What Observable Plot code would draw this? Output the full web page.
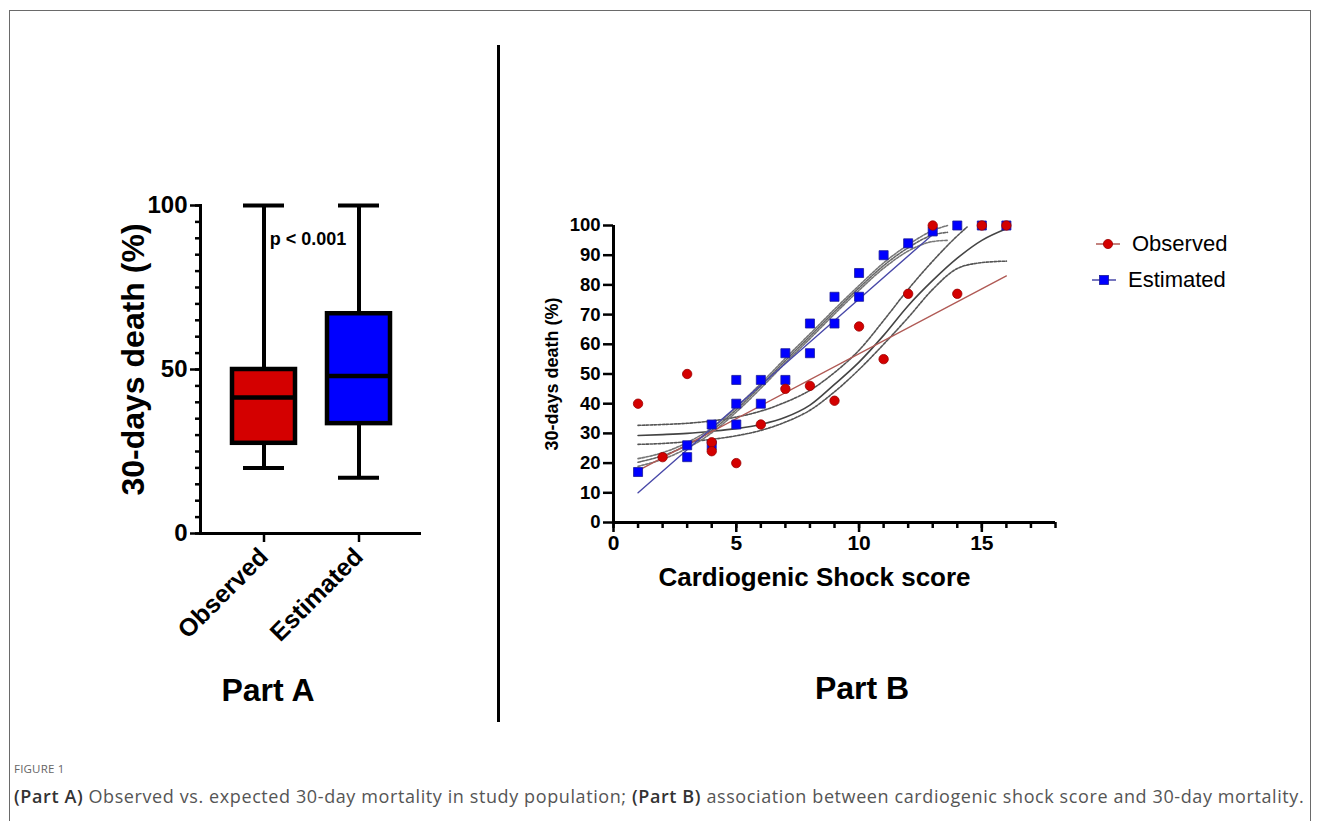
<!DOCTYPE html>
<html>
<head>
<meta charset="utf-8">
<script src="https://cdn.jsdelivr.net/npm/d3@7"></script>
<script src="https://cdn.jsdelivr.net/npm/@observablehq/plot@0.6"></script>
<style>
  html, body { margin: 0; padding: 0; background: #fff; }
  body { width: 1320px; height: 821px; overflow: hidden; position: relative; font-family: "Liberation Sans", Arial, sans-serif; }
  .abs { position: absolute; }
  #frame { left: 9px; top: 10px; width: 1300px; height: 900px; border: 1px solid #6a6a6a; border-bottom: none; }
  #divider { left: 497px; top: 45px; width: 3px; height: 677px; background: #000; }
  #partA { left: 100px; top: 180px; width: 340px; height: 480px; }
  #partB { left: 520px; top: 200px; width: 560px; height: 400px; }
  #partA svg, #partB svg { max-width: none !important; display: block; }
  .part { font-weight: bold; font-size: 32px; transform: translate(-50%, -50%); white-space: nowrap; color: #000; }
  #figlabel { left: 14px; top: 761px; font-family: "Open Sans", sans-serif; font-size: 11.5px; color: #666; letter-spacing: 0.2px; }
  #caption { left: 14px; top: 784px; font-family: "Open Sans", sans-serif; font-size: 18px; letter-spacing: 0.6px; color: #555; white-space: nowrap; }
  #caption b { font-weight: 600; color: #333; }
  #legend { left: 1090px; top: 226px; font-size: 22px; color: #000; }
  .lg { display: flex; align-items: center; height: 36px; }
  .lg svg { margin-right: 10px; }
</style>
</head>
<body>
<div id="frame" class="abs"></div>
<div id="divider" class="abs"></div>
<div id="partA" class="abs"></div>
<div id="partB" class="abs"></div>
<div class="abs part" style="left:268px; top:690px;">Part A</div>
<div class="abs part" style="left:862px; top:688px;">Part B</div>
<div id="legend" class="abs"></div>
<div id="figlabel" class="abs">FIGURE 1</div>
<div id="caption" class="abs"><b>(Part A)</b> Observed vs. expected 30-day mortality in study population; <b>(Part B)</b> association between cardiogenic shock score and 30-day mortality.</div>
<script>
const FONT = '"Liberation Sans", Arial, sans-serif';

// ---------- Part A: box plot summary ----------
const groups = ["Observed", "Estimated"];
const boxMin = [20, 17];
const boxQ1 = [27.5, 33.5];
const boxMedian = [41.5, 48];
const boxQ3 = [50, 67];
const boxMax = [100, 100];
const boxFill = ["#d40000", "#0000ff"];
const yTicksA = [0, 50, 100];
const yMinorTicksA = [0, 5, 10, 15, 20, 25, 30, 35, 40, 45, 50, 55, 60, 65, 70, 75, 80, 85, 90, 95, 100];
const yLabelA = "30-days death (%)";
const pLabel = "p < 0.001";

// ---------- Part B: scatter points ----------
const obsScore = [1, 2, 3, 4, 4, 5, 6, 7, 8, 9, 10, 11, 12, 13, 14, 15, 16];
const obsDeath = [40, 22, 50, 27, 24, 20, 33, 45, 46, 41, 66, 55, 77, 100, 77, 100, 100];
const estScore = [1, 3, 3, 4, 4, 5, 5, 5, 6, 6, 7, 7, 8, 8, 9, 9, 10, 10, 11, 12, 13, 14, 15, 16];
const estDeath = [17, 22, 26, 26, 33, 33, 40, 48, 40, 48, 48, 57, 57, 67, 67, 76, 76, 84, 90, 94, 98, 100, 100, 100];

// linear fits (endpoints)
const obsLinX = [1, 16];
const obsLinY = [17.5, 83];
const estLinX = [1, 13];
const estLinY = [10, 97];

// sigmoid fit of Observed, with confidence band
const obsFitX = [1, 2, 3, 4, 5, 6, 7, 8, 9, 10, 11, 12, 13, 14, 15, 16];
const obsFitMid = [29.3, 29.6, 30.0, 30.7, 31.6, 33.0, 35.4, 39.5, 46.5, 54, 63, 73, 81.5, 89, 95, 98.9];
const obsFitUpX = [1, 2, 3, 4, 5, 6, 7, 8, 9, 10, 11, 12, 13, 14, 14.4];
const obsFitUp = [32.7, 33.0, 33.4, 34.2, 35.5, 37.5, 40.5, 44.5, 50.5, 58, 68, 78.5, 88, 96.5, 99.5];
const obsFitLo = [26.3, 26.6, 27.2, 28, 29.2, 31, 33.8, 37.8, 44, 51.5, 60, 69, 78.5, 85.5, 87.5, 88];

// sigmoid fit of Estimated, with confidence band
const estFitX = [1, 2, 3, 4, 5, 6, 7, 8, 9, 10, 11, 12, 13, 13.6];
const estFitMid = [20.3, 22.5, 26, 31, 38, 46, 54.5, 62.7, 71, 79, 86.5, 92.5, 96.8, 97.7];
const estFitUp = [21.5, 23.5, 26.9, 31.8, 38.8, 46.8, 55.3, 63.5, 71.8, 79.8, 87.4, 93.5, 98.3, 100];
const estFitLo = [18.9, 21.3, 25, 30.2, 37.2, 45.2, 53.7, 61.9, 70.2, 78.2, 85.6, 91.4, 94.6, 95];

const xTicksB = [0, 5, 10, 15];
const xMinorTicksB = [0, 1, 2, 3, 4, 5, 6, 7, 8, 9, 10, 11, 12, 13, 14, 15, 16, 17, 18];
const yTicksB = [0, 10, 20, 30, 40, 50, 60, 70, 80, 90, 100];
const xLabelB = "Cardiogenic Shock score";
const yLabelB = "30-days death (%)";
const seriesNames = ["Observed", "Estimated"];

// ---------- build Part A ----------
const statsA = groups.map((g, i) => ({group: g, min: boxMin[i], q1: boxQ1[i], median: boxMedian[i], q3: boxQ3[i], max: boxMax[i]}));

const plotA = Plot.plot({
  width: 340, height: 480,
  marginLeft: 100, marginRight: 19, marginTop: 25, marginBottom: 127,
  style: {fontFamily: FONT, background: "transparent", overflow: "visible", color: "#000"},
  x: {domain: groups, paddingInner: 0.337, paddingOuter: 0.33, axis: null},
  y: {domain: [0, 100], axis: null},
  color: {domain: groups, range: boxFill},
  marks: [
    Plot.ruleX(statsA, {x: "group", y1: "min", y2: "q1", stroke: "#000", strokeWidth: 4}),
    Plot.ruleX(statsA, {x: "group", y1: "q3", y2: "max", stroke: "#000", strokeWidth: 4}),
    Plot.tickY(statsA, {x: "group", y: "min", stroke: "#000", strokeWidth: 4, insetLeft: 11, insetRight: 11}),
    Plot.tickY(statsA, {x: "group", y: "max", stroke: "#000", strokeWidth: 4, insetLeft: 11, insetRight: 11}),
    Plot.barY(statsA, {x: "group", y1: "q1", y2: "q3", fill: "group", stroke: "#000", strokeWidth: 4.5}),
    Plot.tickY(statsA, {x: "group", y: "median", stroke: "#000", strokeWidth: 4.5}),
    Plot.axisY({ticks: yMinorTicksA, tickSize: 5, tickFormat: () => "", strokeWidth: 2.5, label: null}),
    Plot.axisY({ticks: yTicksA, tickSize: 10, tickPadding: 3, fontSize: 24, fontWeight: "bold", strokeWidth: 2.5, label: null}),
    Plot.axisX({tickSize: 9, tickRotate: -45, tickPadding: 10, fontSize: 25, fontWeight: "bold", strokeWidth: 2.5, label: null}),
    Plot.ruleY([0], {stroke: "#000", strokeWidth: 3}),
    Plot.frame({anchor: "left", stroke: "#000", strokeWidth: 3}),
    Plot.text([pLabel], {frameAnchor: "top", dx: -3, dy: 27, fontSize: 18, fontWeight: "bold"}),
    Plot.text([yLabelA], {frameAnchor: "left", textAnchor: "middle", lineAnchor: "middle", rotate: -90, dx: -67, dy: -10, fontSize: 32, fontWeight: "bold"})
  ]
});
document.getElementById("partA").appendChild(plotA);

// ---------- build Part B ----------
const obs = obsScore.map((s, i) => ({x: s, y: obsDeath[i]}));
const est = estScore.map((s, i) => ({x: s, y: estDeath[i]}));
const pts = (xs, ys) => xs.map((x, i) => ({x, y: ys[i]}));

const plotB = Plot.plot({
  width: 560, height: 400,
  marginLeft: 93, marginRight: 25, marginTop: 25, marginBottom: 78,
  style: {fontFamily: FONT, background: "transparent", overflow: "visible", color: "#000"},
  x: {domain: [0, 18], axis: null},
  y: {domain: [0, 100], axis: null},
  marks: [
    Plot.line(pts(obsFitX, obsFitLo), {x: "x", y: "y", curve: "monotone-x", stroke: "#555", strokeWidth: 1.6, strokeDasharray: "2.5,1.5"}),
    Plot.line(pts(obsFitUpX, obsFitUp), {x: "x", y: "y", curve: "monotone-x", stroke: "#555", strokeWidth: 1.6, strokeDasharray: "2.5,1.5"}),
    Plot.line(pts(obsFitX, obsFitMid), {x: "x", y: "y", curve: "monotone-x", stroke: "#444", strokeWidth: 1.6}),
    Plot.line(pts(estFitX, estFitLo), {x: "x", y: "y", curve: "monotone-x", stroke: "#777", strokeWidth: 1.6, strokeDasharray: "2.5,1.5"}),
    Plot.line(pts(estFitX, estFitUp), {x: "x", y: "y", curve: "monotone-x", stroke: "#777", strokeWidth: 1.6, strokeDasharray: "2.5,1.5"}),
    Plot.line(pts(estFitX, estFitMid), {x: "x", y: "y", curve: "monotone-x", stroke: "#666", strokeWidth: 1.6, strokeDasharray: "2.5,1.5"}),
    Plot.line(pts(obsLinX, obsLinY), {x: "x", y: "y", stroke: "#b05a55", strokeWidth: 1.4}),
    Plot.line(pts(estLinX, estLinY), {x: "x", y: "y", stroke: "#4848a8", strokeWidth: 1.4}),
    Plot.dot(est, {x: "x", y: "y", symbol: "square", r: 5.1, fill: "#0000ff", stroke: "#1a1a9a", strokeWidth: 0.8}),
    Plot.dot(obs, {x: "x", y: "y", symbol: "circle", r: 4.7, fill: "#d40000", stroke: "#9a0000", strokeWidth: 0.8}),
    Plot.axisX({ticks: xMinorTicksB, tickSize: 6, tickFormat: () => "", strokeWidth: 2.5, label: null}),
    Plot.axisX({ticks: xTicksB, tickSize: 10, tickPadding: 3, fontSize: 21, fontWeight: "bold", strokeWidth: 2.5, label: null}),
    Plot.axisY({ticks: yTicksB, tickSize: 10, tickPadding: 3, fontSize: 18.5, fontWeight: "bold", strokeWidth: 2.5, label: null}),
    Plot.ruleX([0], {stroke: "#000", strokeWidth: 3}),
    Plot.ruleY([0], {stroke: "#000", strokeWidth: 3}),
    Plot.text([xLabelB], {frameAnchor: "bottom", lineAnchor: "middle", dx: -20, dy: 55, fontSize: 26, fontWeight: "bold"}),
    Plot.text([yLabelB], {frameAnchor: "left", textAnchor: "middle", lineAnchor: "middle", rotate: -90, dx: -61, dy: 0, fontSize: 18, fontWeight: "bold"})
  ]
});
document.getElementById("partB").appendChild(plotB);

// ---------- legend ----------
const legend = document.getElementById("legend");
const glyphs = [
  {name: seriesNames[0], line: "#b05a55", fill: "#d40000", shape: "circle", dx: 4},
  {name: seriesNames[1], line: "#4848a8", fill: "#0000ff", shape: "square", dx: 0}
];
for (const g of glyphs) {
  const row = document.createElement("div");
  row.className = "lg";
  const mark = g.shape === "circle"
    ? `<circle cx="14" cy="8" r="4.6" fill="${g.fill}" stroke="#9a0000" stroke-width="0.8"/>`
    : `<rect x="9.5" y="3.5" width="9" height="9" fill="${g.fill}" stroke="#1a1a9a" stroke-width="0.8"/>`;
  row.innerHTML = `<svg width="28" height="16" style="margin-left:${g.dx}px"><line x1="2" x2="26" y1="8" y2="8" stroke="${g.line}" stroke-width="1.5"/>${mark}</svg><span>${g.name}</span>`;
  legend.appendChild(row);
}
</script>
</body>
</html>
